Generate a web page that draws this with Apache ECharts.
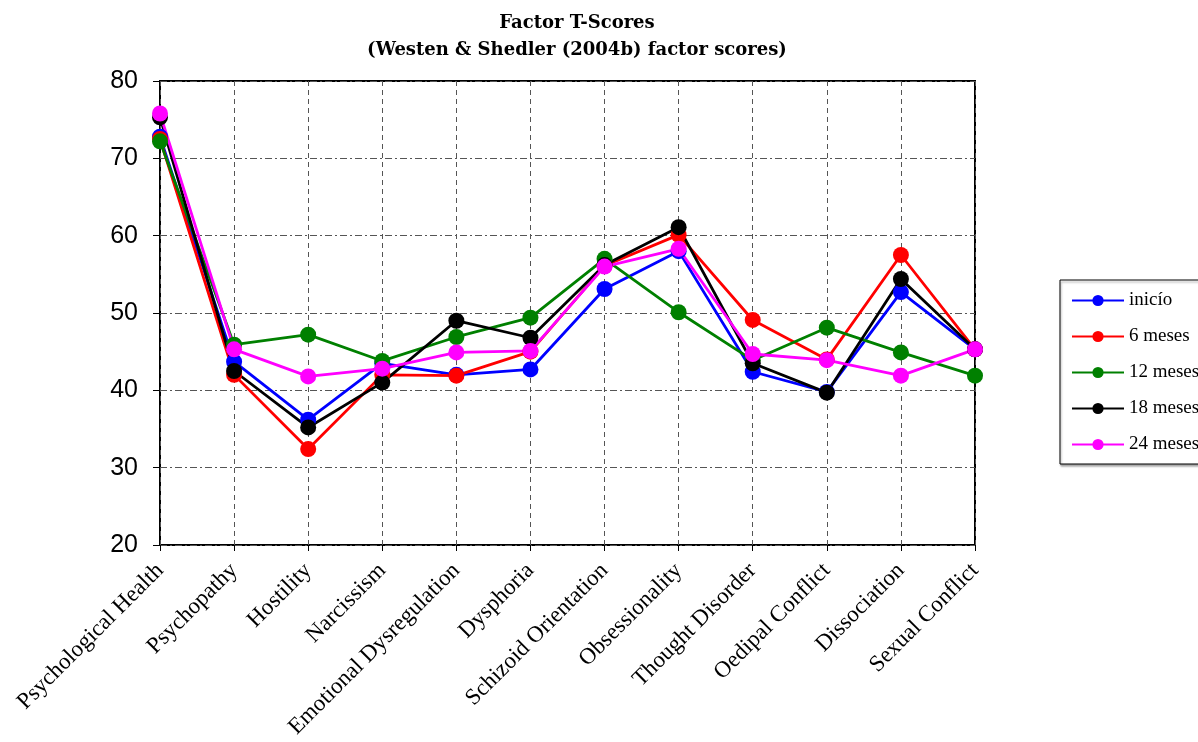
<!DOCTYPE html>
<html>
<head>
<meta charset="utf-8">
<script src="https://cdn.jsdelivr.net/npm/echarts@6/dist/echarts.min.js"></script>
<style>
  html, body { margin: 0; padding: 0; background: #fff; }
  #chart { width: 1198px; height: 742px; }
</style>
</head>
<body>
<div id="chart"></div>
<script>
const categories = [
  'Psychological Health', 'Psychopathy', 'Hostility', 'Narcissism',
  'Emotional Dysregulation', 'Dysphoria', 'Schizoid Orientation',
  'Obsessionality', 'Thought Disorder', 'Oedipal Conflict',
  'Dissociation', 'Sexual Conflict'
];

const inicio   = [72.8, 43.7, 36.2, 43.5, 42.0, 42.7, 53.1, 58.0, 42.4, 39.8, 52.7, 45.3];
const meses6   = [72.5, 42.0, 32.4, 42.0, 41.9, 45.0, 56.1, 60.1, 49.1, 44.0, 57.5, 45.3];
const meses12  = [72.2, 45.9, 47.2, 43.8, 46.9, 49.4, 57.0, 50.1, 43.9, 48.1, 44.9, 41.9];
const meses18  = [75.3, 42.5, 35.2, 41.0, 49.0, 46.8, 56.2, 61.1, 43.5, 39.7, 54.4, 45.3];
const meses24  = [75.8, 45.3, 41.8, 42.8, 44.9, 45.1, 56.0, 58.3, 44.7, 43.9, 41.9, 45.3];

const seriesDefs = [
  { name: 'inicío', data: inicio, color: '#0000ff' },
  { name: '6 meses', data: meses6, color: '#ff0000' },
  { name: '12 meses', data: meses12, color: '#008000' },
  { name: '18 meses', data: meses18, color: '#000000' },
  { name: '24 meses', data: meses24, color: '#ff00ff' }
];

const chart = echarts.init(document.getElementById('chart'));

const option = {
  animation: false,
  title: {
    text: 'Factor T-Scores\n(Westen & Shedler (2004b) factor scores)',
    left: 572,
    top: 5,
    textAlign: 'center',
    textStyle: {
      fontFamily: 'DejaVu Serif',
      fontWeight: 'bold',
      fontSize: 18,
      lineHeight: 27,
      color: '#000'
    }
  },
  legend: {
    orient: 'vertical',
    left: 1060,
    top: 280,
    padding: [11, 20, 10, 11],
    itemGap: 17,
    itemWidth: 52,
    itemHeight: 14,
    borderColor: '#000',
    borderWidth: 1,
    backgroundColor: '#fff',
    shadowColor: 'rgba(0,0,0,0.35)',
    shadowOffsetX: 1,
    shadowOffsetY: 2,
    shadowBlur: 2,
    textStyle: {
      fontFamily: 'Liberation Serif',
      fontSize: 19,
      color: '#000'
    },
    data: seriesDefs.map(s => s.name)
  },
  grid: {
    left: 160,
    right: 223,
    top: 81,
    bottom: 197,
    show: true,
    borderColor: '#000',
    borderWidth: 2,
    backgroundColor: '#fff'
  },
  xAxis: {
    type: 'category',
    data: categories,
    boundaryGap: false,
    axisLine: { show: false },
    axisTick: {
      show: true,
      alignWithLabel: true,
      length: 6,
      lineStyle: { color: '#000', width: 1 }
    },
    axisLabel: {
      rotate: 45,
      interval: 0,
      margin: 22,
      fontFamily: 'Liberation Serif',
      fontSize: 23,
      color: '#000'
    },
    splitLine: {
      show: true,
      lineStyle: { color: '#555', width: 1, type: [5, 4] }
    }
  },
  yAxis: {
    type: 'value',
    min: 20,
    max: 80,
    interval: 10,
    axisLine: { show: false },
    axisTick: {
      show: true,
      length: 7,
      lineStyle: { color: '#000', width: 1 }
    },
    axisLabel: {
      margin: 22,
      fontFamily: 'Liberation Sans',
      fontSize: 25,
      color: '#000'
    },
    splitLine: {
      show: true,
      lineStyle: { color: '#555', width: 1, type: [7, 3, 2, 3] }
    }
  },
  series: seriesDefs.map(s => ({
    name: s.name,
    type: 'line',
    data: s.data,
    symbol: 'circle',
    symbolSize: 16,
    lineStyle: { color: s.color, width: 2.8 },
    itemStyle: { color: s.color },
    emphasis: { disabled: true }
  }))
};

chart.setOption(option);
</script>
</body>
</html>
